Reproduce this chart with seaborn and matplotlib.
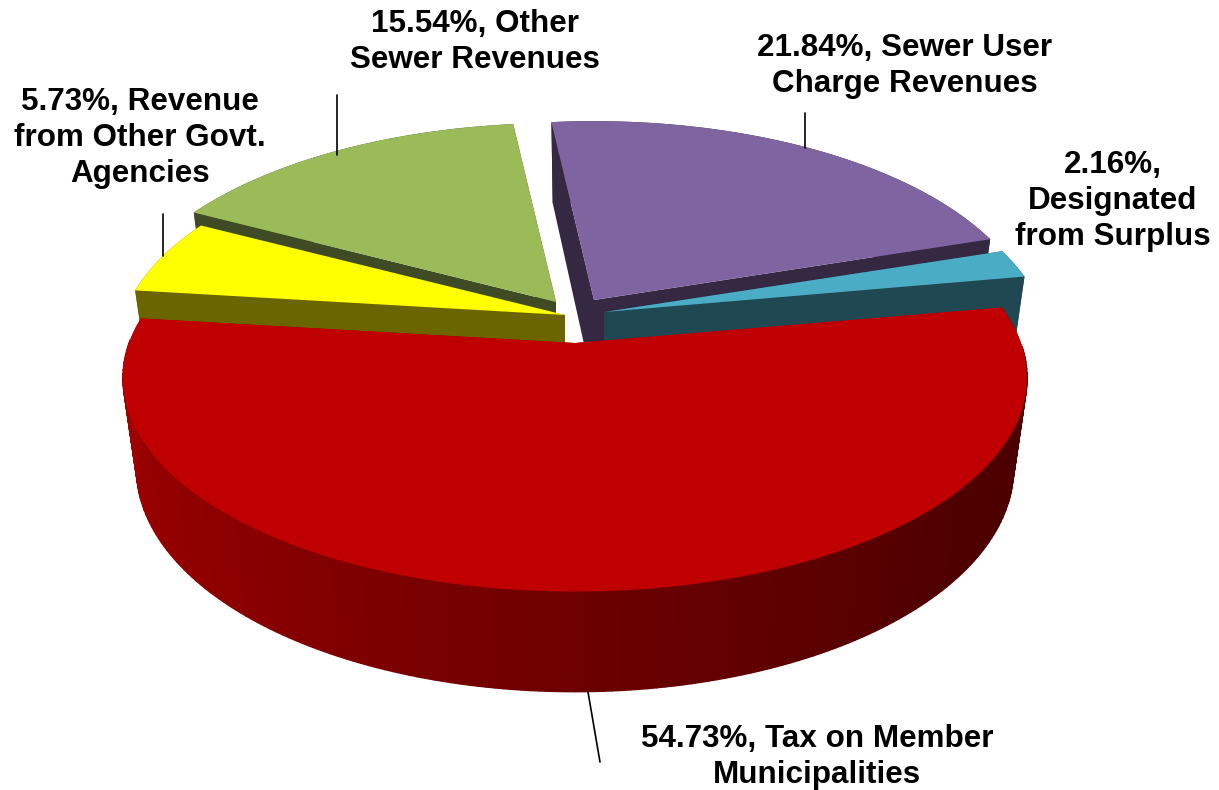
import matplotlib
matplotlib.use("Agg")
import matplotlib.pyplot as plt
import seaborn as sns
import numpy as np

# data, clockwise from the top of the pie
categories = [
    "Sewer User\nCharge Revenues",
    "\nDesignated\nfrom Surplus",
    "Tax on Member\nMunicipalities",
    "Revenue\nfrom Other Govt.\nAgencies",
    "Other\nSewer Revenues",
]
shares = [21.84, 2.16, 54.73, 5.73, 15.54]

top_colors = ["#8064A2", "#4BACC6", "#C00000", "#FFFF00", "#9BBB59"]
side_colors = ["#342842", "#1F4852", "#A00000", "#6B6500", "#3E4B24"]
red_rim = ["#A60000", "#8E0000", "#6C0000", "#4E0000", "#4C0000"]

# where each wedge tip sits (pixels), the pie is pulled apart by hand
tips = [(594, 300), (604, 312), (575, 343), (565, 315), (556, 302)]
stretch = [0.98, 0.985, 1.0, 0.99, 0.985]
draw_order = [4, 0, 1, 3, 2]
label_pos = [(905, 66), (1113, 201), (817, 757), (140, 138), (475, 42)]
leaders = [((805, 113), (805, 148)), ((337, 95), (337, 155)),
           ((163, 214), (163, 256)), ((588, 692), (600, 762))]

START = -6.5
RX, RY, PERSP = 446, 208, 0.163
BOTTOM_X, BOTTOM_Y, DEPTH = 0.97, 1.045, 89


def project(tip, theta, radius=1.0, bottom=False, sx_scale=1.0):
    """pasa angulos (desde arriba, horario) a pixeles, con algo de perspectiva"""
    t = np.radians(theta)
    x = radius * np.sin(t)
    y = -radius * np.cos(t)
    w = 1 - PERSP * y
    sx, sy = sx_scale * RX * x / w, RY * y / w
    if bottom:
        return tip[0] + BOTTOM_X * sx, tip[1] + BOTTOM_Y * sy + DEPTH
    return tip[0] + sx, tip[1] + sy


sns.set_theme(style="white")
plt.rcParams["font.family"] = ["Liberation Sans", "DejaVu Sans"]

fig = plt.figure(figsize=(12.19, 7.9), dpi=100)
ax = fig.add_axes([0, 0, 1, 1])
ax.set_xlim(0, 1219)
ax.set_ylim(790, 0)
ax.axis("off")

edges = START + np.cumsum([0] + shares) * 3.6

for i in draw_order:
    tip = tips[i]
    k = stretch[i]
    a0, a1 = edges[i], edges[i + 1]
    arc = np.linspace(a0, a1, max(int(a1 - a0), 2) + 1)

    # caras de corte
    for a in (a0, a1):
        xt, yt = project(tip, a, sx_scale=k)
        xb, yb = project(tip, a, bottom=True, sx_scale=k)
        xt0, yt0 = project(tip, a, radius=0)
        xb0, yb0 = project(tip, a, radius=0, bottom=True)
        ax.fill([xt0, xt, xb, xb0], [yt0, yt, yb, yb0], color=side_colors[i], lw=0)

    # borde exterior, el rojo va en degradado
    if i == 2:
        rim = sns.blend_palette(red_rim[::-1], n_colors=len(arc) - 1)
    else:
        rim = [side_colors[i]] * (len(arc) - 1)
    for j in range(len(arc) - 1):
        xt, yt = project(tip, arc[j:j + 2], sx_scale=k)
        xb, yb = project(tip, arc[j:j + 2], bottom=True, sx_scale=k)
        # la parte de atras no lleva trazo, si no asoma por detras de la tapa
        width = 1.0 if np.cos(np.radians(arc[j])) < 0 else 0
        ax.fill(np.r_[xt, xb[::-1]], np.r_[yt, yb[::-1]], color=rim[j], lw=width)

    xs, ys = project(tip, arc, sx_scale=k)
    ax.fill(np.r_[tip[0], xs], np.r_[tip[1], ys], color=top_colors[i], lw=0)

for (x0, y0), (x1, y1) in leaders:
    ax.plot([x0, x1], [y0, y1], color="black", lw=1.2)

for share, name, (x, y) in zip(shares, categories, label_pos):
    txt = f"{share:.2f}%, {name}" if not name.startswith("\n") else f"{share:.2f}%,{name}"
    ax.text(x, y, txt, ha="center", va="center", fontsize=22.6, fontweight="bold",
            color="black", linespacing=1.25)

plt.savefig("out.png", dpi=100)
